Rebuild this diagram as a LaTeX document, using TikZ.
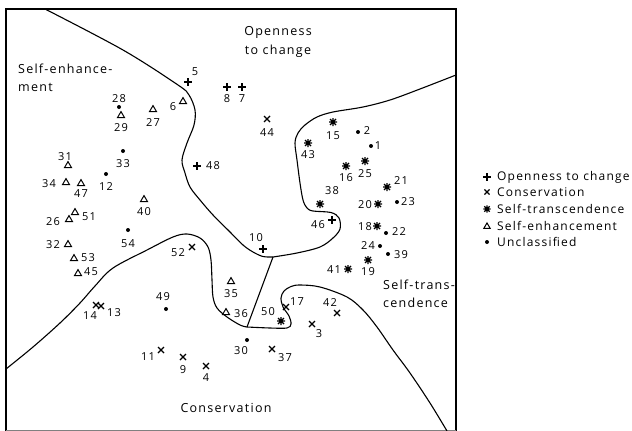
\documentclass[tikz,border=0pt]{standalone}
\usepackage{fontspec}
\setmainfont{Open Sans}[LetterSpace=10]
\begin{document}
\begin{tikzpicture}[x=1pt,y=-1pt,
  boundary/.style={line width=1.1pt, line join=round},
  mk/.style={line width=1.1pt},
  num/.style={inner sep=0pt, font=\fontsize{11}{13}\selectfont},
  region/.style={inner sep=0pt, font=\fontsize{12.5}{18.5}\selectfont},
  legtext/.style={inner sep=0pt, anchor=west, font=\fontsize{12}{13}\selectfont},
  pics/plusm/.style={code={\draw[mk] (-4,0)--(4,0) (0,-4)--(0,4);}},
  pics/crossm/.style={code={\draw[mk] (-3,-3)--(3,3) (-3,3)--(3,-3);}},
  pics/starm/.style={code={\draw[line width=1.2pt] (-4,0)--(4,0) (0,-4)--(0,4) (-3,-3)--(3,3) (-3,3)--(3,-3);
                           \fill (0,0) circle (1.6);}},
  pics/trim/.style={code={\draw[line width=1pt, line join=miter] (-3.5,2.6)--(3.5,2.6)--(0,-3.4)--cycle;}},
  pics/dotm/.style={code={\fill (0,0) circle (2);}}
]
\useasboundingbox (0,0) rectangle (632,431);

% frame
\draw[line width=2pt] (6,431) -- (6,9);
\draw[line width=1.3pt] (5,9) -- (456,9) -- (456,431);
\draw[gray, line width=1pt] (6,430.5) -- (456,430.5);

% junctions of the region boundaries
\coordinate (J1) at (273,257);
\coordinate (J2) at (247,327);

% boundary between self-enhancement and openness to change
\draw[boundary] plot[smooth, tension=0.55] coordinates {
  (45,9) (123,50) (178,85) (189,95) (195,110) (194,125) (187,143) (182,160)
  (185,173) (190,187) (200,200) (213,215) (230,232) (243,245) (253,252) (263,256.5) (J1)};
% boundary between openness to change and self-transcendence
\draw[boundary] plot[smooth, tension=0.55] coordinates {
  (J1) (297,253) (320,247) (333,238) (340,229) (339,218) (331,212.5) (313,211)
  (307,208) (303,200) (300,183) (297,160) (295,143) (298,133) (305,125)
  (317,117) (333,112) (363,107) (390,100) (420,89) (456,75)};
% straight divider
\draw[boundary] (J1) -- (J2);
% boundary between self-enhancement and conservation
\draw[boundary] plot[smooth, tension=0.55] coordinates {
  (6,369) (33,347) (60,323) (80,303) (95,286) (113,268) (147,250) (173,237)
  (187,234) (200,238) (208,247) (211,260) (212,280) (213,297) (217,308)
  (227,317) (240,325) (J2)};
% boundary between conservation and self-transcendence
\draw[boundary] plot[smooth, tension=0.55] coordinates {
  (J2) (270,328) (287,328) (291,324) (289,316) (283,307) (281,298) (284,291)
  (291,286.5) (300,285) (320,287) (347,297) (363,310) (377,327) (393,350)
  (410,373) (430,403) (447,431)};

% region labels
\node[region, align=left, anchor=west] (lse) at (18,78) {Self-enhance-\\ment};
\node[region, align=center] (lop) at (278,42) {Openness\\to change};
\node[region, align=left, anchor=west] (lst) at (383,294) {Self-trans-\\cendence};
\node[region] (lco) at (226,408) {Conservation};

% openness to change
\foreach \n/\mx/\my/\lx/\ly in {5/188/82/195/72, 8/227/87/227/99, 7/242/87/242/99,
  48/197/166/213/166, 10/263/249/256/238, 46/332/220/318/225} {
  \coordinate (p\n) at (\mx,\my);
  \pic at (p\n) {plusm};
  \node[num] (n\n) at (\lx,\ly) {\n};
}
% conservation
\foreach \n/\mx/\my/\lx/\ly in {44/267/119/267/133, 52/192/247/178/253, 14/96/305/90/316,
  13/101/306/114/313, 17/286/307/297/302, 11/161/350/148/357, 9/183/357/183/370,
  4/206/366/206/378, 37/272/349/285/358, 3/312/324/319/334, 42/337/313/330/303} {
  \coordinate (p\n) at (\mx,\my);
  \pic at (p\n) {crossm};
  \node[num] (n\n) at (\lx,\ly) {\n};
}
% self-transcendence
\foreach \n/\mx/\my/\lx/\ly in {15/333/122/333/136, 43/308/143/308/155, 16/346/166/346/178,
  25/365/161/365/174, 21/387/187/401/181, 38/320/204/332/191, 20/378/204/365/205,
  18/377/226/365/227, 19/368/260/368/272, 41/348/269/334/270, 50/281/321/268/312} {
  \coordinate (p\n) at (\mx,\my);
  \pic at (p\n) {starm};
  \node[num] (n\n) at (\lx,\ly) {\n};
}
% self-enhancement
\foreach \n/\mx/\my/\lx/\ly in {6/183/101/173/107, 27/153/109/153/123, 29/121/115/121/128,
  31/68/165/65/157, 34/66/182/49/184, 47/81/183/81/194, 40/144/199/144/212,
  51/75/212/89/217, 26/69/219/53/222, 32/68/244/53/245, 53/74/258/88/258,
  45/78/273/91/272, 35/231/281/231/294, 36/226/312/241/314} {
  \coordinate (p\n) at (\mx,\my);
  \pic at (p\n) {trim};
  \node[num] (n\n) at (\lx,\ly) {\n};
}
% unclassified
\foreach \n/\mx/\my/\lx/\ly in {28/119/107/119/99, 33/123/151/123/164, 12/106/174/106/187,
  54/128/230/128/244, 49/166/309/163/297, 2/358/132/367/131, 1/371/146/378/146,
  23/397/202/408/202, 22/386/233/399/232, 24/380/246/368/246, 39/388/254/401/255,
  30/247/340/241/351} {
  \coordinate (p\n) at (\mx,\my);
  \pic at (p\n) {dotm};
  \node[num] (n\n) at (\lx,\ly) {\n};
}

% legend
\pic at (487,177) {plusm};
\node[legtext] (g1) at (497,177) {Openness to change};
\pic[scale=0.85] at (487,192) {crossm};
\node[legtext] (g2) at (497,192) {Conservation};
\pic[scale=0.9] at (487,209) {starm};
\node[legtext] (g3) at (497,209) {Self-transcendence};
\pic[scale=0.9] at (487,226) {trim};
\node[legtext] (g4) at (497,226) {Self-enhancement};
\pic at (487,242) {dotm};
\node[legtext] (g5) at (497,242) {Unclassified};
\end{tikzpicture}
\end{document}
